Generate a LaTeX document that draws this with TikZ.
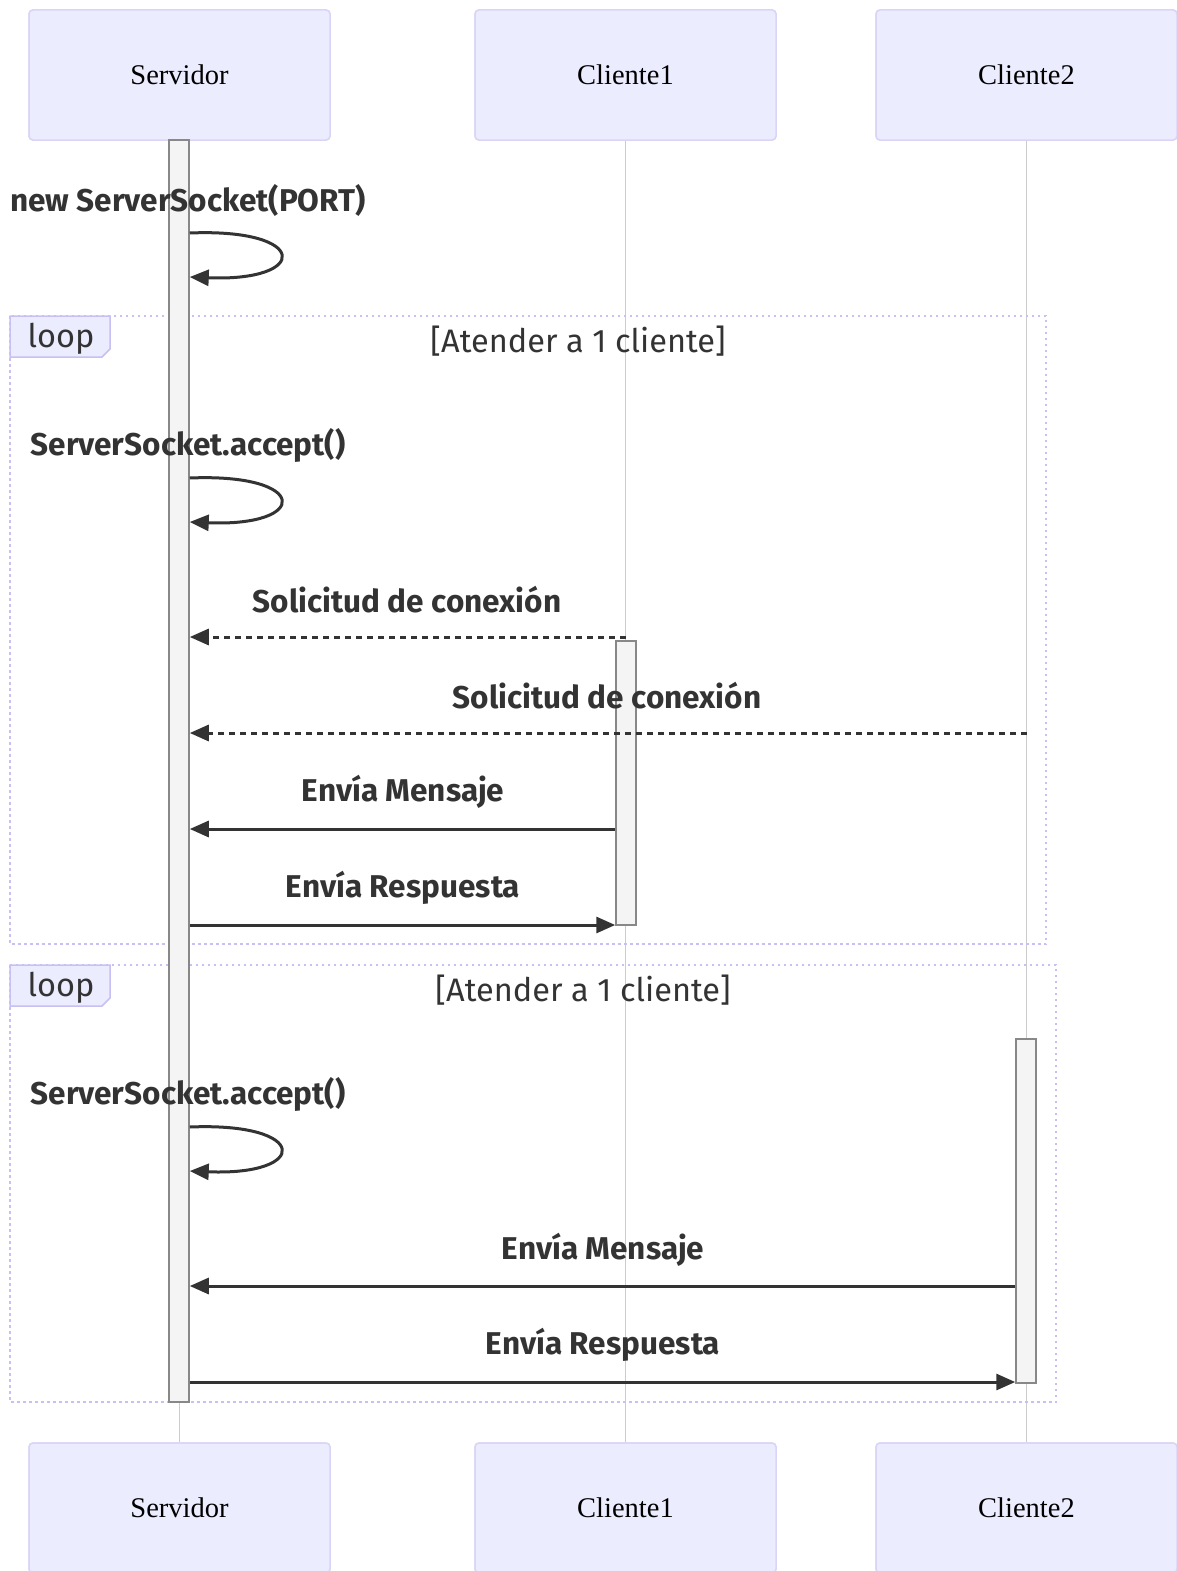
\documentclass[tikz,border=0pt]{standalone}
\usepackage{fontspec}
\setmainfont{Liberation Serif}
\newfontfamily\msgfont{Fira Sans}
\usetikzlibrary{arrows.meta, positioning}

\definecolor{actfill}{HTML}{ECECFF}
\definecolor{actline}{HTML}{DAD4F6}
\definecolor{framecol}{HTML}{C8BFF2}
\definecolor{lifecol}{HTML}{CCCCCC}
\definecolor{barfill}{HTML}{F4F4F4}
\definecolor{barline}{HTML}{888888}
\definecolor{msgcol}{HTML}{333333}

\begin{document}
\begin{tikzpicture}[x=1pt, y=-1pt,
    actor/.style={rectangle, rounded corners=4pt, draw=actline, line width=1.5pt, fill=actfill,
        minimum width=301pt, minimum height=130pt, font=\fontsize{28.5}{30}\selectfont},
    lifeline/.style={draw=lifecol, line width=1.5pt},
    actbar/.style={rectangle, draw=barline, line width=1.5pt, fill=barfill, minimum width=20pt, inner sep=0pt},
    msglabel/.style={font=\msgfont\bfseries\fontsize{31.5}{33}\selectfont, text=msgcol, inner sep=0pt},
    framelabel/.style={font=\msgfont\fontsize{32.5}{34}\selectfont, text=msgcol, inner sep=0pt},
    frame/.style={draw=framecol, line width=2.5pt, dash pattern=on 2.5pt off 3.5pt},
    tab/.style={draw=framecol, line width=1.5pt, fill=actfill},
    msg/.style={draw=msgcol, line width=3pt, -{Triangle[length=19pt, width=16pt]}},
    reply/.style={msg, dash pattern=on 6pt off 5pt}]
    \useasboundingbox (0,0) rectangle (1176,1571);

    % actors
    \node[actor] (srvTop) at (179.5,75) {Servidor};
    \node[actor] (cl1Top) at (625.5,75) {Cliente1};
    \node[actor] (cl2Top) at (1026.5,75) {Cliente2};
    \node[actor] (srvBot) at (179.5,1508) {Servidor};
    \node[actor] (cl1Bot) at (625.5,1508) {Cliente1};
    \node[actor] (cl2Bot) at (1026.5,1508) {Cliente2};

    \draw[lifeline] (srvTop) -- (srvBot);
    \draw[lifeline] (cl1Top) -- (cl1Bot);
    \draw[lifeline] (cl2Top) -- (cl2Bot);
    \node[actor] at (srvTop) {Servidor};
    \node[actor] at (cl1Top) {Cliente1};
    \node[actor] at (cl2Top) {Cliente2};
    \node[actor] at (srvBot) {Servidor};
    \node[actor] at (cl1Bot) {Cliente1};
    \node[actor] at (cl2Bot) {Cliente2};

    % loop frames
    \draw[frame] (10,316) rectangle (1046,944);
    \draw[tab] (10,316) -- (110,316) -- (110,349) -- (102,357) -- (10,357) -- cycle;
    \node[framelabel] (loopA) at (61,339) {loop};
    \node[framelabel] (condA) at (578,341) {[Atender a 1 cliente]};

    \draw[frame] (10,965) rectangle (1056,1402);
    \draw[tab] (10,965) -- (110,965) -- (110,998) -- (102,1006) -- (10,1006) -- cycle;
    \node[framelabel] (loopB) at (61,988) {loop};
    \node[framelabel] (condB) at (583,990) {[Atender a 1 cliente]};

    % activations
    \node[actbar, minimum height=1262pt] (srvAct) at (179,771) {};
    \node[actbar, minimum height=284pt] (cl1Act) at (626,783) {};
    \node[actbar, minimum height=344pt] (cl2Act) at (1026,1211) {};

    % rows
    \coordinate (r1) at (0,637);
    \coordinate (r2) at (0,733);
    \coordinate (r3) at (0,829);
    \coordinate (r4) at (0,925);
    \coordinate (r5) at (0,1286);
    \coordinate (r6) at (0,1382);

    % self calls
    \node[msglabel] (newSock) at (188,200) {new ServerSocket(PORT)};
    \draw[msg] (srvAct.east |- 0,233) .. controls (310,228) and (310,282) .. (srvAct.east |- 0,277);
    \node[msglabel] (acceptA) at (188,445) {ServerSocket.accept()};
    \draw[msg] (srvAct.east |- 0,478) .. controls (310,473) and (310,527) .. (srvAct.east |- 0,522);
    \node[msglabel] (acceptB) at (188,1094) {ServerSocket.accept()};
    \draw[msg] (srvAct.east |- 0,1127) .. controls (310,1122) and (310,1176) .. (srvAct.east |- 0,1171);

    % messages
    \node[msglabel] (solA) at (407,600) {Solicitud de conexión};
    \draw[reply] (cl1Top |- r1) -- (srvAct.east |- r1);
    \node[msglabel] (solB) at (607,696) {Solicitud de conexión};
    \draw[reply] (cl2Top |- r2) -- (srvAct.east |- r2);
    \node[msglabel] (envMsgA) at (403,792) {Envía Mensaje};
    \draw[msg] (cl1Act.west |- r3) -- (srvAct.east |- r3);
    \node[msglabel] (envRespA) at (403,888) {Envía Respuesta};
    \draw[msg] (srvAct.east |- r4) -- (cl1Act.west |- r4);
    \node[msglabel] (envMsgB) at (603,1250) {Envía Mensaje};
    \draw[msg] (cl2Act.west |- r5) -- (srvAct.east |- r5);
    \node[msglabel] (envRespB) at (603,1345) {Envía Respuesta};
    \draw[msg] (srvAct.east |- r6) -- (cl2Act.west |- r6);
\end{tikzpicture}
\end{document}
